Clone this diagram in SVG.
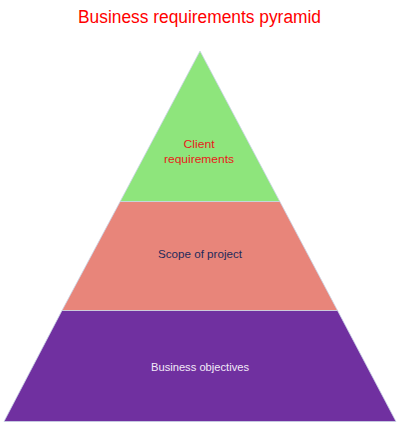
<svg xmlns="http://www.w3.org/2000/svg" width="400" height="427" viewBox="0 0 400 427">
<style>
.layer{stroke:#c9d3e6;stroke-width:0.8;stroke-linejoin:round}
.lbl{font-family:"Liberation Sans",Arial,sans-serif;font-size:11px;text-anchor:middle}
.title{font-family:"Liberation Sans",Arial,sans-serif;font-size:18px;text-anchor:middle;fill:#ff0000}
</style>
<rect width="400" height="427" fill="#ffffff"/>
<text class="title" x="199.5" y="23" textLength="243" lengthAdjust="spacingAndGlyphs">Business requirements pyramid</text>
<g id="business-objectives">
<polygon class="layer" points="62,310.5 337.5,310.5 396,421.5 4,421.5" fill="#7030a0"/>
<text class="lbl" x="200" y="370.5" fill="#f2eaf8" textLength="98" lengthAdjust="spacingAndGlyphs">Business objectives</text>
</g>
<g id="scope-of-project">
<polygon class="layer" points="120.2,201.5 279.8,201.5 337.5,310.5 62,310.5" fill="#e8857a"/>
<text class="lbl" x="200" y="258" fill="#1f2a5a" textLength="84" lengthAdjust="spacingAndGlyphs">Scope of project</text>
</g>
<g id="client-requirements">
<polygon class="layer" points="200,51 279.8,201.5 120.2,201.5" fill="#8ee57c"/>
<text class="lbl" x="199" y="148" fill="#e81a1a" textLength="31" lengthAdjust="spacingAndGlyphs">Client</text>
<text class="lbl" x="199" y="163" fill="#e81a1a" textLength="70" lengthAdjust="spacingAndGlyphs">requirements</text>
</g>
<g id="connectors"></g>
</svg>
